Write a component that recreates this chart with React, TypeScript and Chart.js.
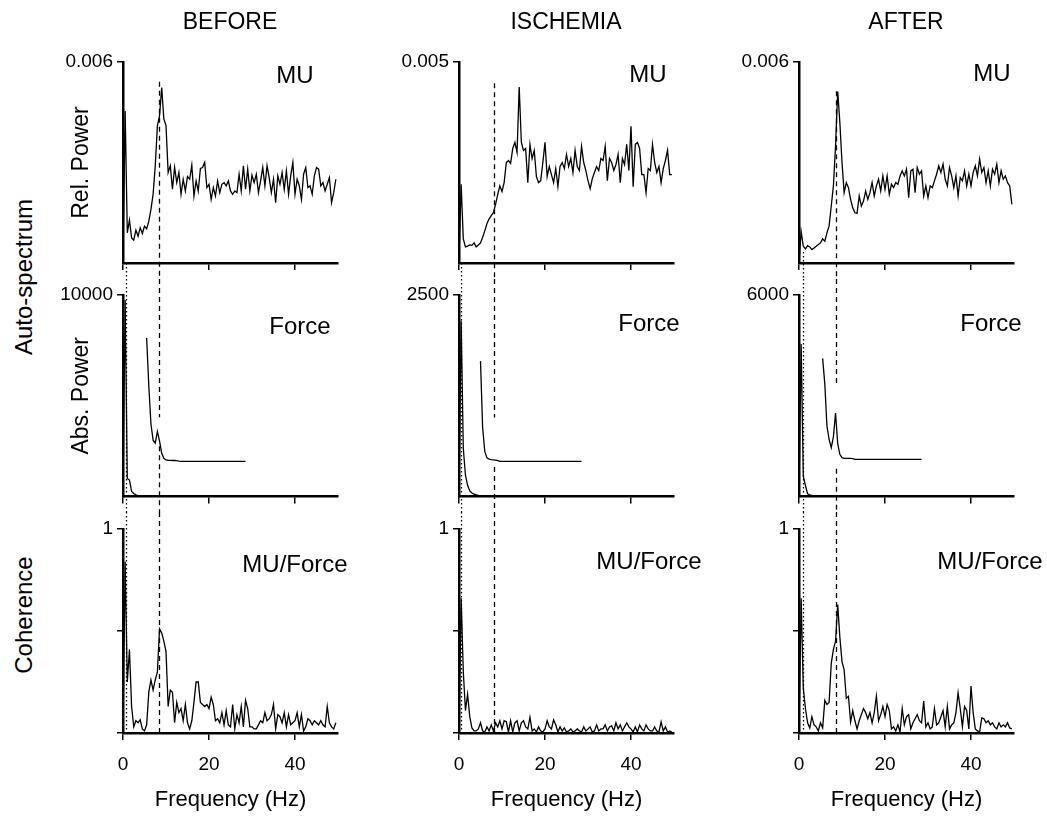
import React, { useEffect, useRef } from 'react';
import { Chart, registerables } from 'chart.js';

Chart.register(...registerables);

const FONT = "'Liberation Sans', Arial, Helvetica, sans-serif";
Chart.defaults.font.family = FONT;
Chart.defaults.color = '#000';

// ---------- DATA ----------
const COLUMN_TITLES = ['BEFORE', 'ISCHEMIA', 'AFTER'];
const ROW_LABELS = ['MU', 'Force', 'MU/Force'];
const Y_TITLES = ['Rel. Power', 'Abs. Power', ''];
const X_TITLE = 'Frequency (Hz)';
const X_TICKS = [0, 20, 40];

const FREQ = [
  0, 0.5, 1, 1.5, 2, 2.5, 3, 3.5, 4, 4.5, 5, 5.5, 6, 6.5, 7, 7.5, 8, 8.5, 9, 9.5,
  10, 10.5, 11, 11.5, 12, 12.5, 13, 13.5, 14, 14.5, 15, 15.5, 16, 16.5, 17, 17.5, 18, 18.5, 19, 19.5,
  20, 20.5, 21, 21.5, 22, 22.5, 23, 23.5, 24, 24.5, 25, 25.5, 26, 26.5, 27, 27.5, 28, 28.5, 29, 29.5,
  30, 30.5, 31, 31.5, 32, 32.5, 33, 33.5, 34, 34.5, 35, 35.5, 36, 36.5, 37, 37.5, 38, 38.5, 39, 39.5,
  40, 40.5, 41, 41.5, 42, 42.5, 43, 43.5, 44, 44.5, 45, 45.5, 46, 46.5, 47, 47.5, 48, 48.5, 49, 49.5,
];

const INSET_FREQ = [
  5, 5.5, 6, 6.5, 7, 7.5, 8, 8.5, 9, 9.5, 10, 10.5, 11, 11.5, 12, 12.5, 13, 13.5, 14, 14.5,
  15, 15.5, 16, 16.5, 17, 17.5, 18, 18.5, 19, 19.5, 20, 20.5, 21, 21.5, 22, 22.5, 23, 23.5, 24, 24.5,
  25, 25.5, 26, 26.5, 27, 27.5, 28, 28.5,
];

// Auto-spectrum MU (relative power)
const MU_BEFORE = [
  0.0001, 0.00454, 0.0009, 0.00128, 0.00075, 0.00068, 0.00098, 0.0008, 0.00105, 0.00088,
  0.0011, 0.00102, 0.00125, 0.0016, 0.00205, 0.0029, 0.0041, 0.0044, 0.00524, 0.0043,
  0.0041, 0.0027, 0.0029, 0.0022, 0.00285, 0.0024, 0.0027, 0.00205, 0.0025, 0.00215,
  0.00258, 0.0025, 0.00292, 0.002, 0.00245, 0.00215, 0.00282, 0.00285, 0.003, 0.00225,
  0.00235, 0.0019, 0.00225, 0.002, 0.00245, 0.0021, 0.00235, 0.0024, 0.0023, 0.00245,
  0.00215, 0.00205, 0.00215, 0.0021, 0.00265, 0.00215, 0.0029, 0.0022, 0.0028, 0.00215,
  0.00262, 0.0024, 0.00265, 0.0021, 0.00245, 0.00285, 0.0023, 0.0029, 0.00255, 0.0021,
  0.0025, 0.0018, 0.0026, 0.00235, 0.0027, 0.0022, 0.00275, 0.00205, 0.0026, 0.003,
  0.00205, 0.0025, 0.0023, 0.0019, 0.00265, 0.00285, 0.00225, 0.0023, 0.00205, 0.0026,
  0.00285, 0.0028, 0.0023, 0.0024, 0.00215, 0.00235, 0.00255, 0.0018, 0.0021, 0.0025,
];
const MU_ISCHEMIA = [
  0.0001, 0.00196, 0.0006, 0.0004, 0.00042, 0.00045, 0.00044, 0.0005, 0.0004, 0.00045,
  0.0005, 0.00064, 0.0008, 0.00098, 0.0011, 0.00118, 0.00125, 0.00146, 0.0017, 0.00192,
  0.00178, 0.002, 0.0025, 0.00255, 0.00248, 0.00285, 0.003, 0.00275, 0.00438, 0.003,
  0.0028, 0.00285, 0.002, 0.00295, 0.0026, 0.0028, 0.00215, 0.002, 0.00205, 0.0025,
  0.003, 0.00215, 0.0024, 0.0022, 0.002, 0.00235, 0.0019, 0.0024, 0.0025, 0.00235,
  0.0027, 0.0024, 0.0026, 0.00225, 0.0028, 0.0024, 0.0023, 0.0029, 0.0025, 0.0023,
  0.00205, 0.00185, 0.0021, 0.00225, 0.0024, 0.0023, 0.0026, 0.00255, 0.0029, 0.00205,
  0.0026, 0.0025, 0.0023, 0.00245, 0.0027, 0.002, 0.0026, 0.00245, 0.00295, 0.0023,
  0.0034, 0.0019, 0.00295, 0.003, 0.00285, 0.0022, 0.0022, 0.00175, 0.00235, 0.0023,
  0.00295, 0.0025, 0.00225, 0.0024, 0.002, 0.00235, 0.00255, 0.0028, 0.0022, 0.0022,
];
const MU_AFTER = [
  0.00002, 0.00094, 0.0005, 0.00042, 0.00052, 0.00048, 0.0004, 0.00045, 0.0005, 0.00055,
  0.0006, 0.00072, 0.00065, 0.0009, 0.0011, 0.0017, 0.0023, 0.0035, 0.00512, 0.0042,
  0.003, 0.0021, 0.0024, 0.00225, 0.0019, 0.00165, 0.0015, 0.00148, 0.002, 0.0017,
  0.00185, 0.00215, 0.0019, 0.0021, 0.0024, 0.002, 0.0023, 0.0025, 0.00215, 0.0026,
  0.0022, 0.0026, 0.00205, 0.00235, 0.00225, 0.0024, 0.00235, 0.0026, 0.00275, 0.0026,
  0.0028, 0.00195, 0.00275, 0.0028, 0.0021, 0.00285, 0.00265, 0.00275, 0.002, 0.0023,
  0.00195, 0.0023, 0.00225, 0.00245, 0.00265, 0.0029, 0.0027, 0.00295, 0.0025, 0.0023,
  0.00285, 0.0026, 0.00225, 0.0026, 0.002, 0.00255, 0.00245, 0.00275, 0.0023, 0.00265,
  0.0023, 0.0027, 0.0029, 0.0026, 0.0031, 0.0027, 0.00285, 0.0024, 0.00275, 0.0023,
  0.0028, 0.00265, 0.00295, 0.0024, 0.00275, 0.0025, 0.0026, 0.0024, 0.0023, 0.00175,
];

// Auto-spectrum Force (absolute power)
const FORCE_BEFORE = [
  150, 9750, 900, 820, 260, 150, 90, 50, 30, 20,
  15, 12, 10, 9, 9, 8, 8, 8, 7, 7,
  7, 6, 6, 6, 6, 5, 5, 5, 5, 5,
  5, 5, 5, 5, 5, 5, 5, 5, 5, 5,
  5, 5, 5, 5, 5, 5, 5, 5, 5, 5,
  5, 5, 5, 5, 5, 5, 5, 5, 5, 5,
  5, 5, 5, 5, 5, 5, 5, 5, 5, 5,
  5, 5, 5, 5, 5, 5, 5, 5, 5, 5,
  5, 5, 5, 5, 5, 5, 5, 5, 5, 5,
  5, 5, 5, 5, 5, 5, 5, 5, 5, 5,
];
const FORCE_ISCHEMIA = [
  60, 2180, 600, 265, 140, 70, 45, 30, 22, 14,
  10, 8, 7, 6, 6, 5, 5, 5, 4, 4,
  4, 4, 4, 4, 3, 3, 3, 3, 3, 3,
  3, 3, 3, 3, 3, 3, 3, 3, 3, 3,
  3, 3, 3, 3, 3, 3, 3, 3, 3, 3,
  3, 3, 3, 3, 3, 3, 3, 3, 3, 3,
  3, 3, 3, 3, 3, 3, 3, 3, 3, 3,
  3, 3, 3, 3, 3, 3, 3, 3, 3, 3,
  3, 3, 3, 3, 3, 3, 3, 3, 3, 3,
  3, 3, 3, 3, 3, 3, 3, 3, 3, 3,
];
const FORCE_AFTER = [
  100, 4540, 600, 330, 80, 50, 35, 25, 20, 16,
  14, 12, 10, 9, 8, 8, 7, 7, 6, 6,
  6, 6, 5, 5, 5, 5, 5, 5, 5, 5,
  5, 5, 5, 5, 5, 5, 5, 5, 5, 5,
  5, 5, 5, 5, 5, 5, 5, 5, 5, 5,
  5, 5, 5, 5, 5, 5, 5, 5, 5, 5,
  5, 5, 5, 5, 5, 5, 5, 5, 5, 5,
  5, 5, 5, 5, 5, 5, 5, 5, 5, 5,
  5, 5, 5, 5, 5, 5, 5, 5, 5, 5,
  5, 5, 5, 5, 5, 5, 5, 5, 5, 5,
];

// Magnified force spectrum (inset trace)
const FORCE_INSET_BEFORE = [
  null, 7870, 5500, 3600, 2800, 2650, 3230, 2750, 2150, 1900,
  1820, 1800, 1795, 1790, 1790, 1780, 1760, 1750, 1750, 1750,
  1750, 1750, 1750, 1750, 1750, 1750, 1750, 1750, 1750, 1750,
  1750, 1750, 1750, 1750, 1750, 1750, 1750, 1750, 1750, 1750,
  1750, 1750, 1750, 1750, 1750, 1750, 1750, 1750,
];
const FORCE_INSET_ISCHEMIA = [
  1680, 850, 560, 480, 465, 458, 455, 452, 445, 436,
  436, 436, 436, 436, 436, 436, 436, 436, 436, 436,
  436, 436, 436, 436, 436, 436, 436, 436, 436, 436,
  436, 436, 436, 436, 436, 436, 436, 436, 436, 436,
  436, 436, 436, 436, 436, 436, 436, 436,
];
const FORCE_INSET_AFTER = [
  null, 4115, 3355, 2100, 1700, 1460, 1780, 2490, 1580, 1260,
  1160, 1140, 1140, 1135, 1135, 1130, 1105, 1105, 1105, 1105,
  1105, 1105, 1105, 1105, 1105, 1105, 1105, 1105, 1105, 1105,
  1105, 1105, 1105, 1105, 1105, 1105, 1105, 1105, 1105, 1105,
  1105, 1105, 1105, 1105, 1105, 1105, 1105, 1105,
];

// Coherence MU/Force
const COH_BEFORE = [
  0.02, 0.84, 0.25, 0.41, 0.13, 0.03, 0.06, 0.05, 0.065, 0.02,
  0.01, 0.04, 0.2, 0.26, 0.21, 0.26, 0.3, 0.51, 0.49, 0.45,
  0.4, 0.13, 0.21, 0.2, 0.05, 0.15, 0.1, 0.12, 0.06, 0.14,
  0.05, 0.02, 0.06, 0.15, 0.25, 0.25, 0.15, 0.14, 0.13, 0.14,
  0.12, 0.175, 0.14, 0.06, 0.07, 0.05, 0.1, 0.04, 0.11, 0.04,
  0.03, 0.14, 0.02, 0.09, 0.05, 0.13, 0.03, 0.16, 0.12, 0.03,
  0.03, 0.02, 0.02, 0.04, 0.06, 0.05, 0.1, 0.06, 0.07, 0.09,
  0.14, 0.02, 0.09, 0.08, 0.05, 0.1, 0.03, 0.09, 0.04, 0.05,
  0.06, 0.1, 0.03, 0.09, 0.01, 0.03, 0.07, 0.06, 0.04, 0.06,
  0.05, 0.04, 0.06, 0.04, 0.03, 0.13, 0.05, 0.03, 0.02, 0.05,
];
const COH_ISCHEMIA = [
  0.02, 0.66, 0.3, 0.11, 0.19, 0.08, 0.025, 0.01, 0.01, 0.02,
  0.05, 0.01, 0.005, 0.03, 0.01, 0.04, 0.01, 0.05, 0.03, 0.06,
  0.02, 0.06, 0.055, 0.005, 0.06, 0.005, 0.05, 0.06, 0.01, 0.05,
  0.06, 0.03, 0.02, 0.077, 0.01, 0.02, 0.005, 0.03, 0.01, 0.005,
  0.02, 0.06, 0.03, 0.02, 0.065, 0.04, 0.005, 0.03, 0.01, 0.025,
  0.005, 0.01, 0.02, 0.005, 0.01, 0.02, 0.01, 0.005, 0.03, 0.01,
  0.02, 0.03, 0.005, 0.01, 0.04, 0.01, 0.02, 0.02, 0.04, 0.01,
  0.03, 0.035, 0.01, 0.05, 0.02, 0.04, 0.01, 0.03, 0.05, 0.03,
  0.02, 0.005, 0.03, 0.005, 0.04, 0.02, 0.01, 0.04, 0.02, 0.01,
  0.01, 0.03, 0.01, 0.005, 0.055, 0.01, 0.03, 0.005, 0.01, 0.005,
];
const COH_AFTER = [
  0.01, 0.66, 0.22, 0.12, 0.05, 0.025, 0.08, 0.04, 0.03, 0.01,
  0.05, 0.025, 0.16, 0.14, 0.15, 0.34, 0.41, 0.45, 0.63, 0.47,
  0.35, 0.31, 0.17, 0.18, 0.054, 0.11, 0.06, 0.02, 0.06, 0.09,
  0.12, 0.1, 0.07, 0.1, 0.05, 0.1, 0.18, 0.06, 0.09, 0.13,
  0.08, 0.14, 0.11, 0.02, 0.03, 0.01, 0.04, 0.005, 0.12, 0.04,
  0.08, 0.09, 0.02, 0.05, 0.07, 0.09, 0.06, 0.05, 0.156, 0.03,
  0.05, 0.02, 0.03, 0.12, 0.04, 0.05, 0.08, 0.11, 0.03, 0.13,
  0.02, 0.04, 0.05, 0.1, 0.197, 0.12, 0.03, 0.13, 0.11, 0.02,
  0.23, 0.1, 0.02, 0.01, 0.005, 0.074, 0.07, 0.05, 0.06, 0.04,
  0.05, 0.03, 0.02, 0.05, 0.03, 0.04, 0.03, 0.05, 0.025, 0.02,
];

const SERIES = [
  [MU_BEFORE, MU_ISCHEMIA, MU_AFTER],
  [FORCE_BEFORE, FORCE_ISCHEMIA, FORCE_AFTER],
  [COH_BEFORE, COH_ISCHEMIA, COH_AFTER],
];
const INSETS = [FORCE_INSET_BEFORE, FORCE_INSET_ISCHEMIA, FORCE_INSET_AFTER];

const Y_MAX = [
  [0.006, 0.005, 0.006],
  [10000, 2500, 6000],
  [1, 1, 1],
];
const Y_TOP_LABELS = [
  ['0.006', '0.005', '0.006'],
  ['10000', '2500', '6000'],
  ['1', '1', '1'],
];

// reference frequencies (Hz): dotted low-frequency marker and dashed peak marker
const DOT_FREQ = [0.7, 0.47, 1.0];
const DASH_FREQ = [8.4, 8.1, 8.7];
const DOT_START_ROW1 = [0, 0, 0.00033];
const DASH_START_ROW1 = [0.00541, 0.00447, 0.00513];
const DASH_GAP_TOP_ROW2 = [3940, 980, 3340];
const DASH_GAP_BOTTOM_ROW2 = [2500, 368, 830];

// ---------- LAYOUT ----------
const COL_X = [123, 459, 799];
const PLOT_W = 215;
const LEFT_W = 72;
const RIGHT_PAD = 40;
const CANVAS_W = LEFT_W + PLOT_W + RIGHT_PAD;
const CANVAS_TOP = [30, 279, 512];
const CANVAS_H = [249, 233, 317];
const PAD_TOP = [32, 16, 17];
const X_AXIS_H = [16, 14, 96];

const PANEL_LABEL_POS = [
  [[295, 75], [648, 74], [992, 73]],
  [[300, 326], [649, 323], [991, 323]],
  [[295, 564], [649, 561], [990, 561]],
];
const TITLE_X = [230, 566, 906];

type Seg = [number | 'top' | 'bottom', number | 'top' | 'bottom'];

function Panel({ r, c }: { r: number; c: number }) {
  const ref = useRef<HTMLCanvasElement>(null);
  useEffect(() => {
    const canvas = ref.current;
    if (!canvas) return;
    const line = {
      borderColor: '#000',
      borderWidth: 1.3,
      pointRadius: 0,
      fill: false,
      tension: 0,
      spanGaps: false,
    };
    const datasets: any[] = [
      { ...line, data: FREQ.map((f, i) => ({ x: f, y: SERIES[r][c][i] })) },
    ];
    if (r === 1) {
      datasets.push({
        ...line,
        data: INSET_FREQ.map((f, i) => ({ x: f, y: INSETS[c][i] })),
      });
    }

    let dotSegs: Seg[];
    let dashSegs: Seg[];
    if (r === 0) {
      dotSegs = [[DOT_START_ROW1[c], 'bottom']];
      dashSegs = [[DASH_START_ROW1[c], 'bottom']];
    } else if (r === 1) {
      dotSegs = [['top', 'bottom']];
      dashSegs = [
        ['top', DASH_GAP_TOP_ROW2[c]],
        [DASH_GAP_BOTTOM_ROW2[c], 'bottom'],
      ];
    } else {
      dotSegs = [['top', 0]];
      dashSegs = [['top', 0]];
    }
    const refLines = [
      { x: DOT_FREQ[c], dash: [1.5, 2.5], segs: dotSegs },
      { x: DASH_FREQ[c], dash: [5, 4], segs: dashSegs },
    ];

    const refPlugin = {
      id: 'refLines',
      afterDatasetsDraw(chart: any) {
        const { ctx } = chart;
        const xs = chart.scales.x;
        const ys = chart.scales.y;
        const toPx = (v: number | 'top' | 'bottom') =>
          v === 'top' ? 0 : v === 'bottom' ? chart.height : ys.getPixelForValue(v);
        refLines.forEach((l) => {
          const px = Math.round(xs.getPixelForValue(l.x)) + 0.5;
          ctx.save();
          ctx.strokeStyle = '#000';
          ctx.lineWidth = 1.3;
          ctx.setLineDash(l.dash);
          l.segs.forEach(([a, b]) => {
            ctx.beginPath();
            ctx.moveTo(px, toPx(a));
            ctx.lineTo(px, toPx(b));
            ctx.stroke();
          });
          ctx.restore();
        });
      },
    };

    const yTicks = r === 2 ? [0, 0.5, 1] : [Y_MAX[r][c]];

    const chart = new Chart(canvas, {
      type: 'line',
      data: { datasets },
      options: {
        animation: false,
        responsive: false,
        devicePixelRatio: 1,
        events: [],
        layout: { padding: { top: PAD_TOP[r], right: RIGHT_PAD, left: 0, bottom: 0 } },
        plugins: { legend: { display: false }, tooltip: { enabled: false }, title: { display: false } },
        scales: {
          x: {
            type: 'linear',
            min: 0,
            max: 50,
            afterBuildTicks: (scale: any) => {
              scale.ticks = X_TICKS.map((v) => ({ value: v }));
            },
            afterFit: (scale: any) => {
              scale.height = X_AXIS_H[r];
            },
            grid: {
              display: true,
              drawOnChartArea: false,
              drawTicks: true,
              tickLength: 7,
              color: '#000',
              lineWidth: 1.5,
            },
            border: { display: true, color: '#000', width: 2.5 },
            ticks: {
              padding: 13,
              font: { size: 19 },
              color: '#000',
              maxRotation: 0,
              callback: (v: any) => (r === 2 ? String(v) : ''),
            },
            title: {
              display: r === 2,
              text: X_TITLE,
              font: { size: 22 },
              color: '#000',
              padding: { top: 0, bottom: 16 },
            },
          },
          y: {
            type: 'linear',
            min: 0,
            max: Y_MAX[r][c],
            afterBuildTicks: (scale: any) => {
              scale.ticks = yTicks.map((v) => ({ value: v }));
            },
            afterFit: (scale: any) => {
              scale.width = LEFT_W;
            },
            grid: {
              display: true,
              drawOnChartArea: false,
              drawTicks: true,
              tickLength: 6,
              color: '#000',
              lineWidth: 1.5,
            },
            border: { display: true, color: '#000', width: 2.5 },
            ticks: {
              padding: 4,
              font: { size: 19 },
              color: '#000',
              callback: (v: any) => (v === Y_MAX[r][c] ? Y_TOP_LABELS[r][c] : ''),
            },
            title: {
              display: c === 0 && Y_TITLES[r] !== '',
              text: Y_TITLES[r],
              font: { size: 23 },
              color: '#000',
              padding: { top: 17, bottom: 0 },
            },
          },
        },
      },
      plugins: [refPlugin],
    } as any);
    return () => chart.destroy();
  }, [r, c]);

  return (
    <canvas
      ref={ref}
      width={CANVAS_W}
      height={CANVAS_H[r]}
      style={{
        position: 'absolute',
        left: COL_X[c] - LEFT_W,
        top: CANVAS_TOP[r],
        width: CANVAS_W,
        height: CANVAS_H[r],
      }}
    />
  );
}

function Text({ x, y, size, children, rotate }: { x: number; y: number; size: number; children: React.ReactNode; rotate?: boolean }) {
  return (
    <div
      style={{
        position: 'absolute',
        left: x,
        top: y,
        transform: `translate(-50%, -50%)${rotate ? ' rotate(-90deg)' : ''}`,
        fontSize: size,
        lineHeight: 1,
        whiteSpace: 'nowrap',
        color: '#000',
        fontFamily: FONT,
      }}
    >
      {children}
    </div>
  );
}

export default function App() {
  return (
    <div
      style={{
        position: 'fixed',
        left: 0,
        top: 0,
        width: 1047,
        height: 829,
        overflow: 'hidden',
        background: '#fff',
        fontFamily: FONT,
      }}
    >
      {[0, 1, 2].map((r) =>
        [0, 1, 2].map((c) => <Panel key={`${r}-${c}`} r={r} c={c} />)
      )}
      {COLUMN_TITLES.map((t, c) => (
        <Text key={t} x={TITLE_X[c]} y={21} size={23}>
          {t}
        </Text>
      ))}
      {[0, 1, 2].map((r) =>
        [0, 1, 2].map((c) => (
          <Text key={`l${r}${c}`} x={PANEL_LABEL_POS[r][c][0]} y={PANEL_LABEL_POS[r][c][1]} size={24}>
            {ROW_LABELS[r]}
          </Text>
        ))
      )}
      <Text x={24} y={277} size={24} rotate>
        Auto-spectrum
      </Text>
      <Text x={24} y={615} size={24} rotate>
        Coherence
      </Text>
    </div>
  );
}
